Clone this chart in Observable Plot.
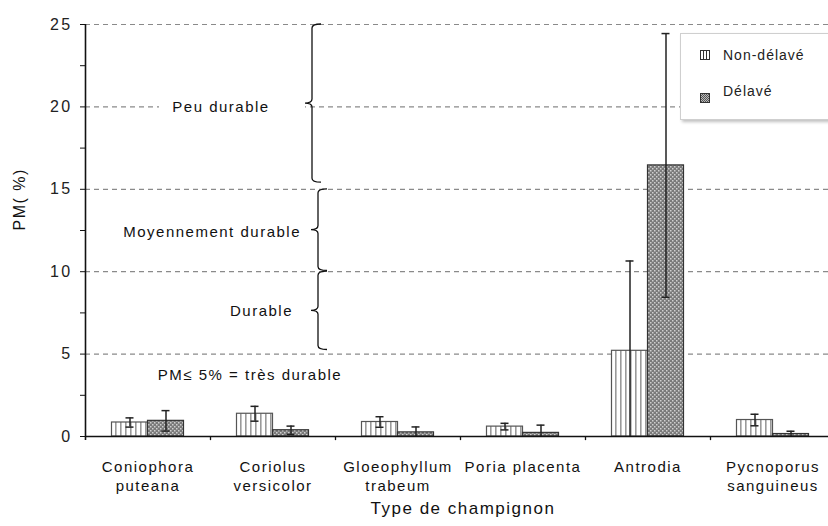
<!DOCTYPE html>
<html><head><meta charset="utf-8">
<script src="https://cdn.jsdelivr.net/npm/d3@7"></script>
<script src="https://cdn.jsdelivr.net/npm/@observablehq/plot@0.6"></script>
<style>
html,body{margin:0;padding:0;background:#fff;overflow:hidden;}
#wrap{position:relative;width:828px;height:526px;overflow:hidden;font-family:"Liberation Sans",Arial,sans-serif;}
#legend{position:absolute;left:680px;top:33px;width:170px;height:87px;background:#fff;border:1px solid #cfcfcf;box-shadow:2px 2px 3px rgba(0,0,0,0.25);box-sizing:border-box;}
.item{position:absolute;left:42px;font-size:14px;letter-spacing:1px;color:#222;line-height:14px;}
.icon{position:absolute;left:19px;}
g[aria-label="y-axis tick label"]{font-size:16px;letter-spacing:2.4px;}
</style></head><body><div id="wrap"></div>
<script>
// ---- data ----
const categories = ["Coniophora puteana","Coriolus versicolor","Gloeophyllum trabeum","Poria placenta","Antrodia","Pycnoporus sanguineus"];
const tickLabels = ["Coniophora\nputeana","Coriolus\nversicolor","Gloeophyllum\ntrabeum","Poria placenta","Antrodia","Pycnoporus\nsanguineus"];
const seriesNames = ["Non-délavé","Délavé"];
const nonDelave = [0.85, 1.38, 0.88, 0.60, 5.20, 1.00];
const nonDelaveErr = [0.28, 0.45, 0.32, 0.20, 5.45, 0.35];
const delave = [0.95, 0.38, 0.25, 0.22, 16.45, 0.15];
const delaveErr = [0.62, 0.25, 0.33, 0.47, 8.00, 0.17];
const yTicks = [0, 2.5, 5, 7.5, 10, 12.5, 15, 17.5, 20, 22.5, 25];
const gridValues = [5, 10, 15, 20, 25];
const braceFrom = [25, 15, 10];
const braceTo = [15.4, 10.05, 5.25];
const annoTexts = ["Peu durable","Moyennement durable","Durable","PM≤ 5% = très durable"];
const annoY = [20, 12.4, 7.6, 3.7];
const yLabel = "PM( %)";
const xLabel = "Type de champignon";

const rows = categories.map((c, i) => ({cat: c, nd: nonDelave[i], ndErr: nonDelaveErr[i], d: delave[i], dErr: delaveErr[i]}));

// ---- layout ----
const W = 828, H = 526, ML = 85, MT = 24, MB = 90, XR = 835;
const bw = (XR - ML) / categories.length;
const barW = 36, capW = 8;
const half = bw / 2;

function braceMark(index, scales) {
  const x = scales.x, y = scales.y;
  const bwid = x.bandwidth ? x.bandwidth() : bw;
  const bandEnd = x(categories[1]) + bwid;
  const g = d3.create("svg:g");
  // white box behind "Peu durable"
  g.append("rect").attr("x", bandEnd - 176).attr("y", y(annoY[0]) - 8).attr("width", 146).attr("height", 16).attr("fill", "#fff");
  const xvs = [bandEnd - 23, bandEnd - 17, bandEnd - 17];
  braceFrom.forEach((v, i) => {
    const xv = xvs[i], y1 = y(v), y2 = y(braceTo[i]), tip = (y1 + y2) / 2;
    const hook = 9, r = 4, tl = 7;
    const p = `M${xv + hook},${y1} Q${xv},${y1} ${xv},${y1 + r} L${xv},${tip - r} Q${xv},${tip} ${xv - tl},${tip} Q${xv},${tip} ${xv},${tip + r} L${xv},${y2 - r} Q${xv},${y2} ${xv + hook},${y2}`;
    g.append("path").attr("d", p).attr("fill", "none").attr("stroke", "#111").attr("stroke-width", 1.3);
  });
  return g.node();
}

const lo = (m, e) => Math.max(0, m - e);

const svg = Plot.plot({
  width: W, height: H,
  marginLeft: ML, marginTop: MT, marginBottom: MB, marginRight: 0,
  style: {fontFamily: '"Liberation Sans", Arial, sans-serif', fontSize: "15px", letterSpacing: "1.5px", color: "#111", background: "#fff"},
  x: {type: "band", domain: categories, range: [ML, XR], padding: 0, axis: null},
  y: {domain: [0, 25], axis: null},
  marks: [
    Plot.ruleY(gridValues, {stroke: "#8a8a8a", strokeWidth: 1.2, strokeDasharray: "5,4"}),
    Plot.barY(rows, {x: "cat", y: "nd", fill: "url(#ndStripes)", stroke: "#555", strokeWidth: 1.2, insetLeft: half - barW, insetRight: half}),
    Plot.barY(rows, {x: "cat", y: "d", fill: "url(#dChecker)", stroke: "#333", strokeWidth: 1.2, insetLeft: half, insetRight: half - barW}),
    Plot.ruleX(rows, {x: "cat", dx: -barW / 2, y1: d => lo(d.nd, d.ndErr), y2: d => d.nd + d.ndErr, stroke: "#222", strokeWidth: 1.5}),
    Plot.ruleX(rows, {x: "cat", dx: barW / 2, y1: d => lo(d.d, d.dErr), y2: d => d.d + d.dErr, stroke: "#222", strokeWidth: 1.5}),
    Plot.tickY(rows, {x: "cat", y: d => d.nd + d.ndErr, stroke: "#222", strokeWidth: 1.5, insetLeft: half - barW / 2 - capW / 2, insetRight: half + barW / 2 - capW / 2}),
    Plot.tickY(rows.filter(d => d.nd - d.ndErr >= 0), {x: "cat", y: d => d.nd - d.ndErr, stroke: "#222", strokeWidth: 1.5, insetLeft: half - barW / 2 - capW / 2, insetRight: half + barW / 2 - capW / 2}),
    Plot.tickY(rows, {x: "cat", y: d => d.d + d.dErr, stroke: "#222", strokeWidth: 1.5, insetLeft: half + barW / 2 - capW / 2, insetRight: half - barW / 2 - capW / 2}),
    Plot.tickY(rows.filter(d => d.d - d.dErr >= 0), {x: "cat", y: d => d.d - d.dErr, stroke: "#222", strokeWidth: 1.5, insetLeft: half + barW / 2 - capW / 2, insetRight: half - barW / 2 - capW / 2}),
    // axes
    Plot.ruleY([0], {stroke: "#111", strokeWidth: 1.5}),
    Plot.ruleX([categories[0]], {x: d => d, dx: -half, y1: -0.25, y2: 25, stroke: "#111", strokeWidth: 1.6}),
    Plot.ruleX(categories.slice(1), {x: d => d, dx: -half, y1: 0, y2: -0.25, stroke: "#111", strokeWidth: 1.3}),
    Plot.axisY({ticks: yTicks, tickSize: 5, tickPadding: 8, tickFormat: d => d % 5 === 0 ? String(d) : "", stroke: "#111", label: null, fill: "#222"}),
    Plot.text(rows, {x: "cat", y: 0, text: (d, i) => tickLabels[i], lineAnchor: "top", dy: 22, lineHeight: 1.28, fill: "#111"}),
    Plot.text([yLabel], {frameAnchor: "left", dx: -66, rotate: -90, fontSize: 16, fill: "#111"}),
    Plot.text([xLabel], {frameAnchor: "bottom", dx: 6, dy: 77, fontSize: 17, fill: "#111"}),
    // annotations
    braceMark,
    Plot.text([annoTexts[0]], {x: () => categories[1], y: () => annoY[0], dx: -52, textAnchor: "middle", fill: "#111"}),
    Plot.text([annoTexts[1]], {x: () => categories[1], y: () => annoY[1], dx: 28, textAnchor: "end", fill: "#111"}),
    Plot.text([annoTexts[2]], {x: () => categories[1], y: () => annoY[2], dx: 20, textAnchor: "end", fill: "#111"}),
    Plot.text([annoTexts[3]], {x: () => categories[1], y: () => annoY[3], dx: -23, textAnchor: "middle", fill: "#111"})
  ]
});

// patterns
const ns = "http://www.w3.org/2000/svg";
const defs = document.createElementNS(ns, "defs");
defs.innerHTML = `
<pattern id="ndStripes" patternUnits="userSpaceOnUse" width="5" height="8">
  <rect width="5" height="8" fill="#fff"/>
  <rect x="0" width="1.6" height="8" fill="#9a9a9a"/>
</pattern>
<pattern id="dChecker" patternUnits="userSpaceOnUse" width="4" height="4">
  <rect width="4" height="4" fill="#7a7a7a"/>
  <rect x="0" y="0" width="1.5" height="1.5" fill="#cfcfcf"/>
  <rect x="2" y="2" width="1.5" height="1.5" fill="#cfcfcf"/>
</pattern>`;
svg.insertBefore(defs, svg.firstChild);

const wrap = document.getElementById("wrap");
wrap.appendChild(svg);

// legend
const legend = document.createElement("div");
legend.id = "legend";
legend.innerHTML = `
<svg class="icon" style="top:16px" width="10" height="10"><rect x="0.5" y="0.5" width="9" height="9" fill="#fff" stroke="#333"/><line x1="3.5" y1="0" x2="3.5" y2="10" stroke="#333"/><line x1="6.5" y1="0" x2="6.5" y2="10" stroke="#333"/></svg>
<div class="item" style="top:14px">${seriesNames[0]}</div>
<svg class="icon" style="top:59px" width="10" height="10">
<defs><pattern id="legChk" patternUnits="userSpaceOnUse" width="2" height="2"><rect width="2" height="2" fill="#555"/><rect width="1" height="1" fill="#bbb"/><rect x="1" y="1" width="1" height="1" fill="#bbb"/></pattern></defs>
<rect x="0.5" y="0.5" width="9" height="9" fill="url(#legChk)" stroke="#333"/></svg>
<div class="item" style="top:50px">${seriesNames[1]}</div>`;
wrap.appendChild(legend);
</script>
</body></html>
